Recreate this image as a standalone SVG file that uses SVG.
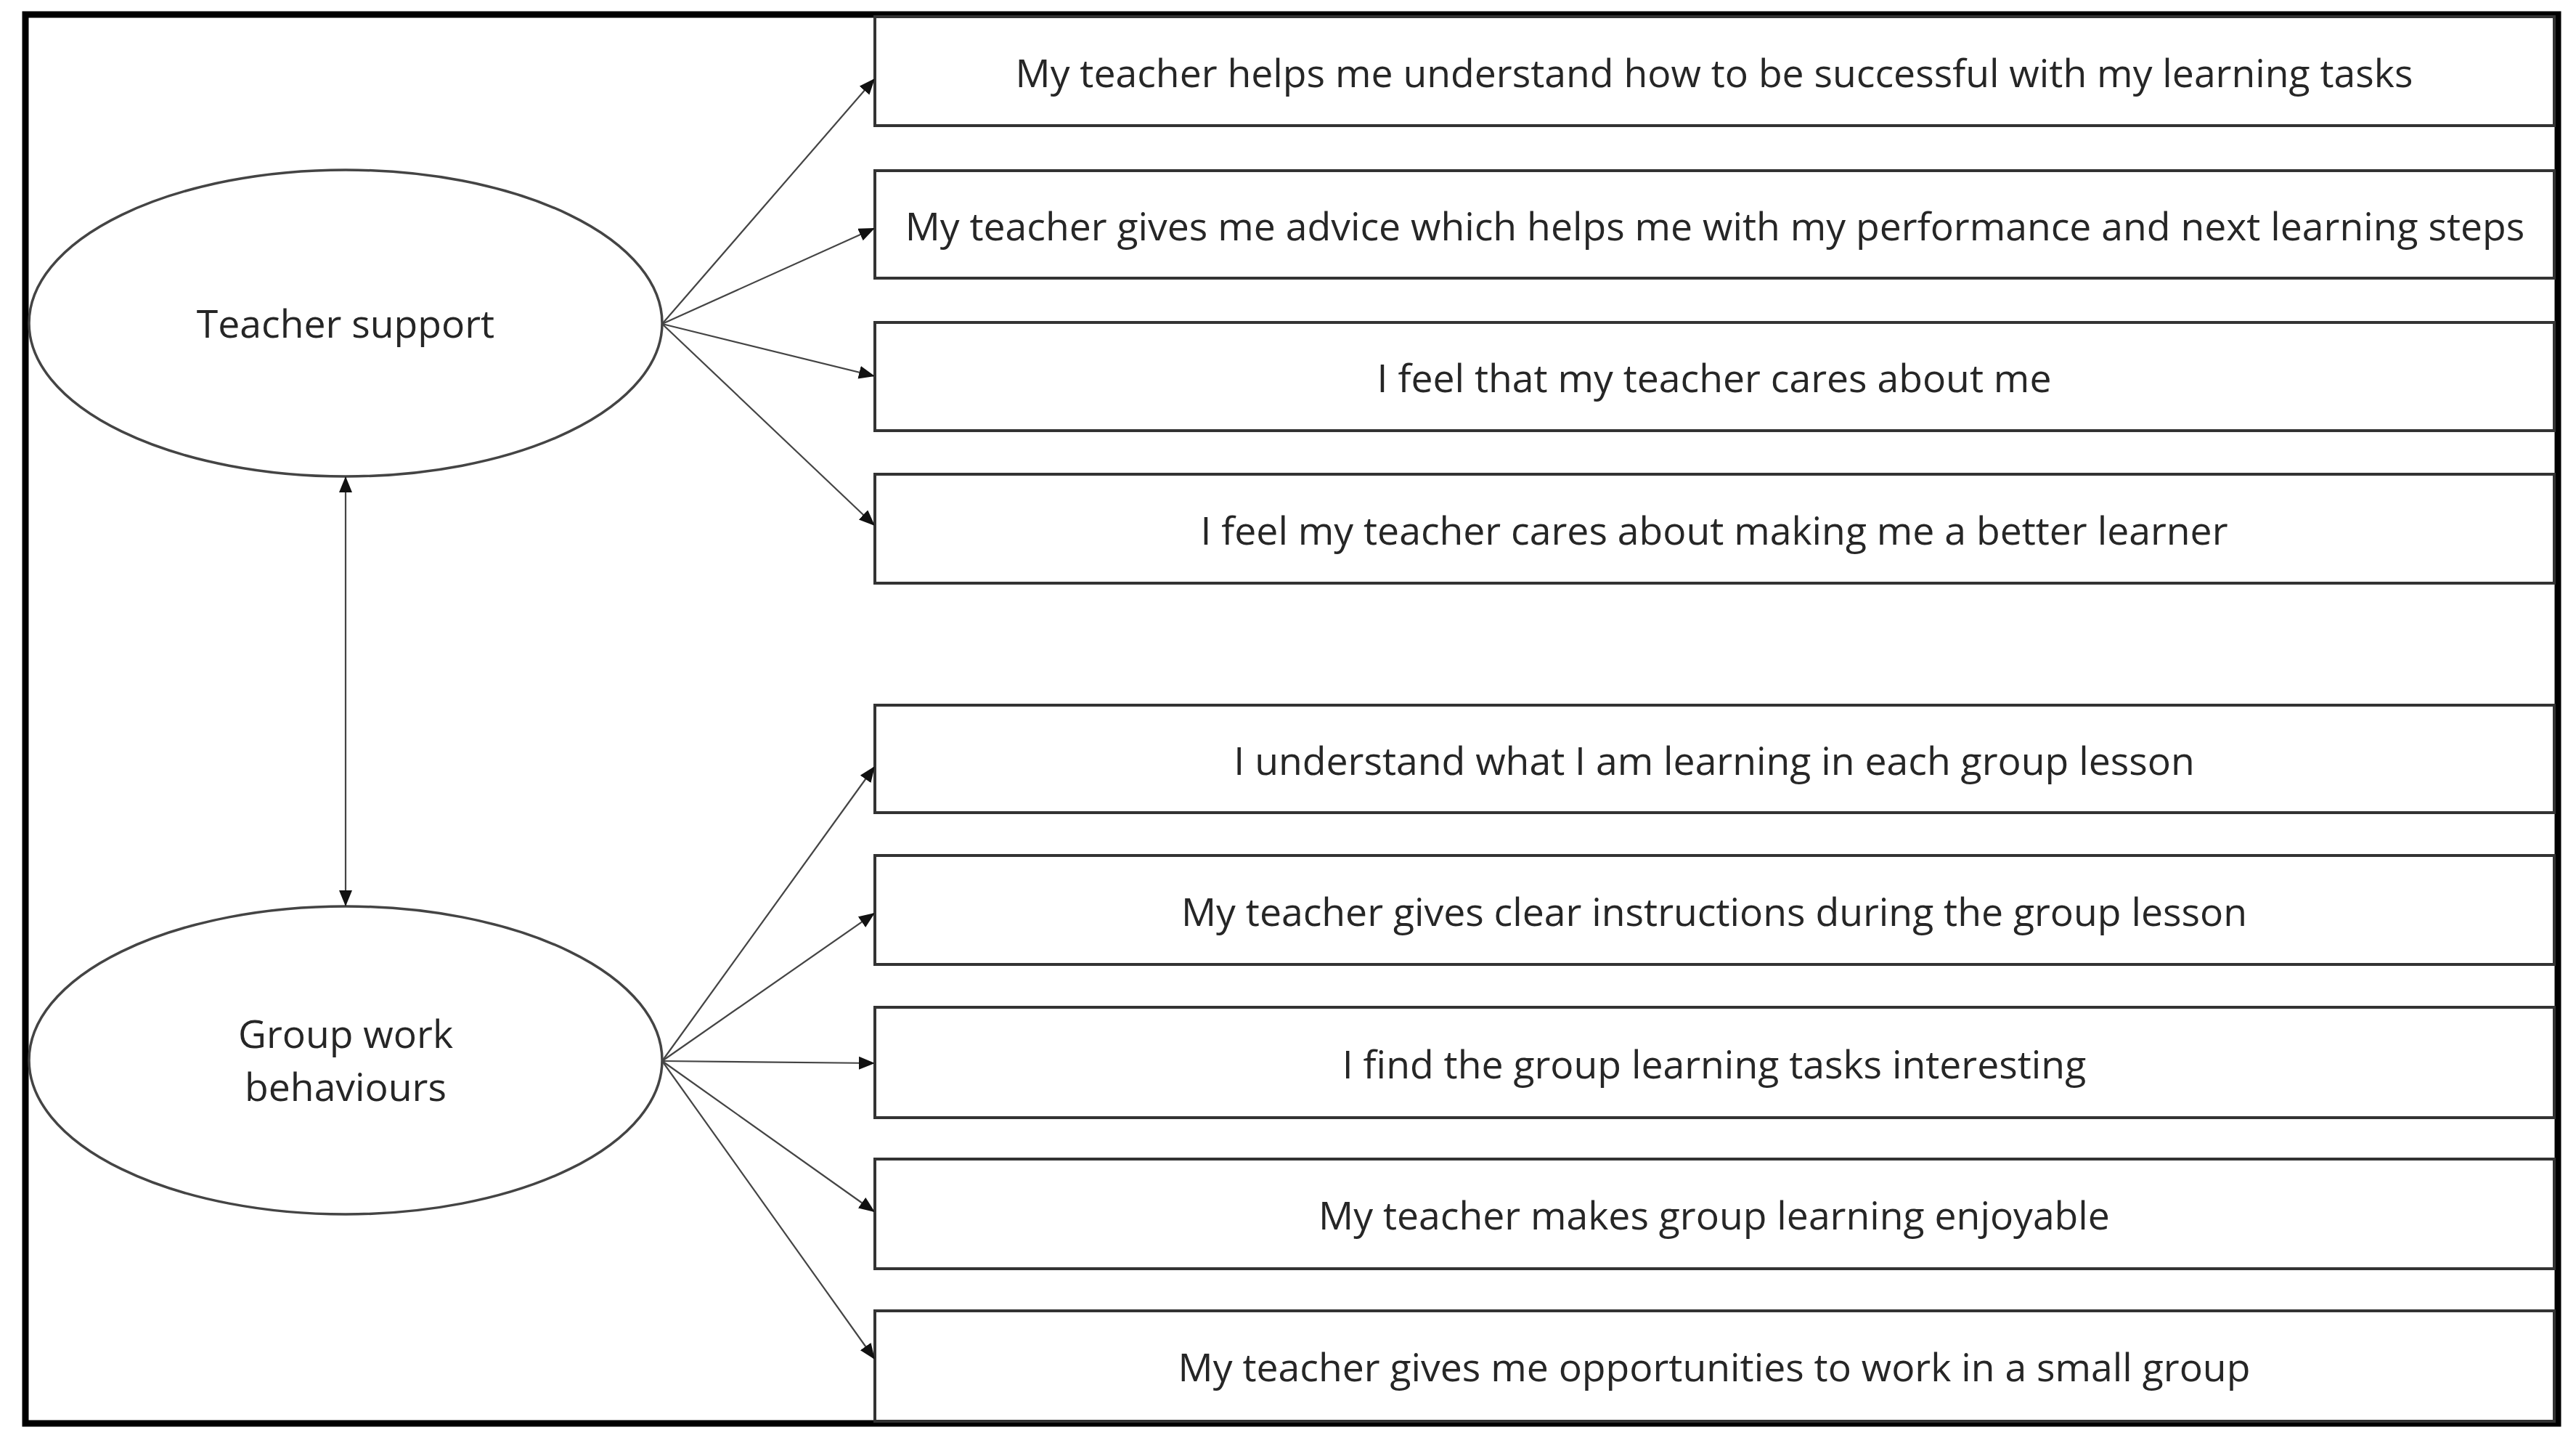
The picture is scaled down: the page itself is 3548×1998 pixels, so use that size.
<svg xmlns="http://www.w3.org/2000/svg" width="3548" height="1998" viewBox="0 0 3548 1998">
<defs>
<style>
.frame{fill:none;stroke:#000;stroke-width:9}
.box{fill:#fff;stroke:#333;stroke-width:4}
.oval{fill:#fff;stroke:#444;stroke-width:3.5}
.lbl{font-family:"Open Sans","Noto Sans","DejaVu Sans",sans-serif;font-size:53.5px;fill:#262626;text-anchor:middle}
.con{fill:none;stroke:#444;stroke-width:2.2}
</style>
<marker id="ah" markerUnits="userSpaceOnUse" markerWidth="24" markerHeight="20" refX="22" refY="9" orient="auto-start-reverse">
<path d="M0,0 L22,9 L0,18 z" fill="#111"/>
</marker>
</defs>
<rect x="0" y="0" width="3548" height="1998" fill="#fff"/>
<rect class="frame" x="35" y="20" width="3488" height="1940"/>

<g id="item1"><rect class="box" x="1205" y="23" width="2313" height="150"/><text class="lbl" x="2361" y="120">My teacher helps me understand how to be successful with my learning tasks</text></g>
<g id="item2"><rect class="box" x="1205" y="235" width="2313" height="148"/><text class="lbl" x="2362" y="331">My teacher gives me advice which helps me with my performance and next learning steps</text></g>
<g id="item3"><rect class="box" x="1205" y="444" width="2313" height="149"/><text class="lbl" x="2361" y="540">I feel that my teacher cares about me</text></g>
<g id="item4"><rect class="box" x="1205" y="653" width="2313" height="150"/><text class="lbl" x="2361" y="750">I feel my teacher cares about making me a better learner</text></g>

<g id="item5"><rect class="box" x="1205" y="971" width="2313" height="148"/><text class="lbl" x="2361" y="1067">I understand what I am learning in each group lesson</text></g>
<g id="item6"><rect class="box" x="1205" y="1178" width="2313" height="150"/><text class="lbl" x="2361" y="1275">My teacher gives clear instructions during the group lesson</text></g>
<g id="item7"><rect class="box" x="1205" y="1387" width="2313" height="152"/><text class="lbl" x="2361" y="1485">I find the group learning tasks interesting</text></g>
<g id="item8"><rect class="box" x="1205" y="1596" width="2313" height="151"/><text class="lbl" x="2361" y="1693">My teacher makes group learning enjoyable</text></g>
<g id="item9"><rect class="box" x="1205" y="1805" width="2313" height="152"/><text class="lbl" x="2361" y="1902">My teacher gives me opportunities to work in a small group</text></g>

<g id="teacher-support"><ellipse class="oval" cx="476" cy="445" rx="436" ry="211"/><text class="lbl" x="476" y="465">Teacher support</text></g>
<g id="group-work"><ellipse class="oval" cx="476" cy="1460" rx="436" ry="212"/><text class="lbl" x="476" y="1443">Group work</text><text class="lbl" x="476" y="1516">behaviours</text></g>

<g id="connectors">
<line class="con" x1="912" y1="446" x2="1205" y2="108" marker-end="url(#ah)"/>
<line class="con" x1="912" y1="446" x2="1205" y2="314" marker-end="url(#ah)"/>
<line class="con" x1="912" y1="446" x2="1205" y2="518" marker-end="url(#ah)"/>
<line class="con" x1="912" y1="446" x2="1205" y2="724" marker-end="url(#ah)"/>
<line class="con" x1="912" y1="1461" x2="1205" y2="1055" marker-end="url(#ah)"/>
<line class="con" x1="912" y1="1461" x2="1205" y2="1257" marker-end="url(#ah)"/>
<line class="con" x1="912" y1="1461" x2="1205" y2="1464" marker-end="url(#ah)"/>
<line class="con" x1="912" y1="1461" x2="1205" y2="1669" marker-end="url(#ah)"/>
<line class="con" x1="912" y1="1461" x2="1205" y2="1872" marker-end="url(#ah)"/>
<line class="con" x1="476" y1="656" x2="476" y2="1248" marker-start="url(#ah)" marker-end="url(#ah)"/>
</g>
</svg>
